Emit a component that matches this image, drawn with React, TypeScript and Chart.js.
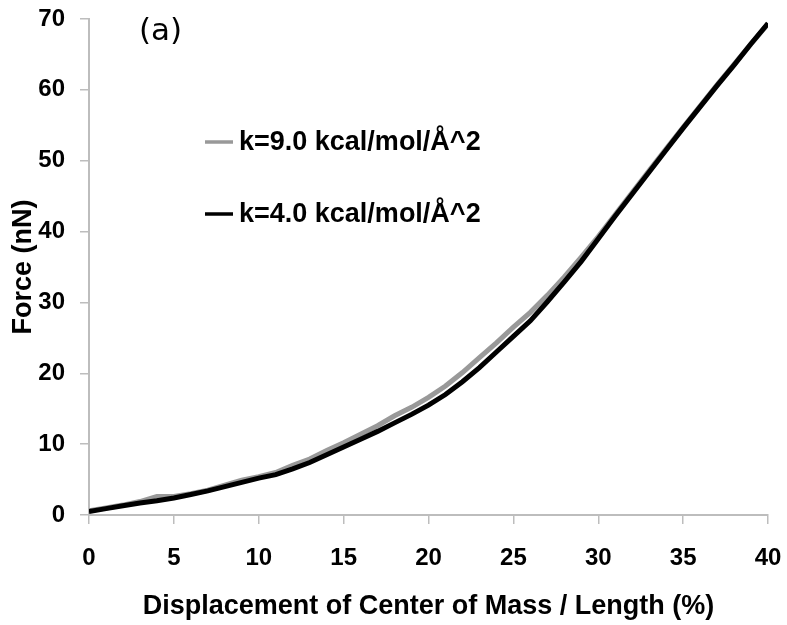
import React, { useEffect, useRef } from "react";
import { Chart, registerables } from "chart.js";

Chart.register(...registerables);

const displacement = [
  0, 1, 2, 3, 4, 5, 6, 7, 8, 9, 10, 11, 12, 13, 14, 15, 16, 17, 18, 19, 20,
  21, 22, 23, 24, 25, 26, 27, 28, 29, 30, 31, 32, 33, 34, 35, 36, 37, 38, 39, 40,
];

const forceK9 = [
  0.6, 1.0, 1.4, 1.9, 2.6, 2.6, 3.0, 3.5, 4.2, 4.9, 5.4, 6.0, 7.0, 7.9, 9.1,
  10.2, 11.4, 12.6, 14.0, 15.2, 16.6, 18.2, 20.1, 22.2, 24.3, 26.5, 28.6, 31.0,
  33.6, 36.4, 39.3, 42.4, 45.5, 48.6, 51.7, 54.7, 57.7, 60.7, 63.6, 66.5, 69.3,
];

const forceK4 = [
  0.5, 0.9, 1.3, 1.7, 2.0, 2.4, 2.9, 3.4, 4.0, 4.6, 5.2, 5.7, 6.5, 7.4, 8.5,
  9.6, 10.7, 11.8, 13.0, 14.2, 15.5, 17.0, 18.8, 20.8, 23.0, 25.2, 27.4, 30.1,
  32.9, 35.8, 39.0, 42.2, 45.3, 48.4, 51.5, 54.6, 57.6, 60.6, 63.5, 66.5, 69.4,
];

const seriesLabels = ["k=9.0 kcal/mol/Å^2", "k=4.0 kcal/mol/Å^2"];
const seriesColors = ["#999999", "#000000"];
const panelLabel = "(a)";
const xTitle = "Displacement of Center of Mass / Length (%)";
const yTitle = "Force (nN)";

const AXIS_COLOR = "#bdbdbd";
const FONT = "'Liberation Sans', Arial, sans-serif";

const overlayPlugin = {
  id: "overlay",
  afterDraw(chart: any) {
    const ctx = chart.ctx;
    ctx.save();
    // panel label
    ctx.fillStyle = "#000";
    ctx.font = "31px 'DejaVu Sans'";
    ctx.textAlign = "left";
    ctx.textBaseline = "alphabetic";
    ctx.fillText(panelLabel, 139, 40);
    // legend
    const rows = [142, 214];
    chart.data.datasets.forEach((ds: any, i: number) => {
      const y = rows[i];
      ctx.strokeStyle = ds.borderColor;
      ctx.lineWidth = 3.5;
      ctx.beginPath();
      ctx.moveTo(205, y);
      ctx.lineTo(233, y);
      ctx.stroke();
      ctx.fillStyle = "#000";
      ctx.font = "bold 27px " + FONT;
      ctx.textBaseline = "middle";
      ctx.fillText(ds.label, 239, y + 1);
    });
    ctx.restore();
  },
};

export default function App() {
  const canvasRef = useRef<HTMLCanvasElement | null>(null);

  useEffect(() => {
    document.body.style.margin = "0";
    const canvas = canvasRef.current;
    if (!canvas) return;
    const toPoints = (vals: number[]) =>
      displacement.map((x, i) => ({ x, y: vals[i] }));

    const chart = new Chart(canvas, {
      type: "line",
      data: {
        datasets: [
          {
            label: seriesLabels[0],
            data: toPoints(forceK9),
            borderColor: seriesColors[0],
            backgroundColor: seriesColors[0],
            borderWidth: 5,
            pointRadius: 0,
            tension: 0,
            order: 1,
          },
          {
            label: seriesLabels[1],
            data: toPoints(forceK4),
            borderColor: seriesColors[1],
            backgroundColor: seriesColors[1],
            borderWidth: 5,
            pointRadius: 0,
            tension: 0,
            order: 0,
          },
        ],
      },
      options: {
        animation: false,
        responsive: false,
        maintainAspectRatio: false,
        devicePixelRatio: 1,
        layout: { padding: { top: 19, right: 19, bottom: 0, left: 0 } },
        plugins: {
          legend: { display: false },
          tooltip: { enabled: false },
        },
        scales: {
          x: {
            type: "linear",
            min: 0,
            max: 40,
            ticks: {
              stepSize: 5,
              color: "#000",
              padding: 20,
              font: { family: FONT, size: 24, weight: "bold" },
            },
            grid: {
              display: true,
              drawOnChartArea: false,
              drawTicks: true,
              tickLength: 9,
              color: AXIS_COLOR,
              lineWidth: 1.5,
            },
            border: { display: true, color: AXIS_COLOR, width: 2 },
            title: {
              display: true,
              text: xTitle,
              color: "#000",
              padding: { top: 0, bottom: 2 },
              font: { family: FONT, size: 27, weight: "bold" },
            },
            afterFit(scale: any) {
              scale.height = 110;
              scale.paddingLeft = 0;
              scale.paddingRight = 0;
            },
          },
          y: {
            type: "linear",
            min: 0,
            max: 70,
            ticks: {
              stepSize: 10,
              color: "#000",
              padding: 15,
              font: { family: FONT, size: 24, weight: "bold" },
            },
            grid: {
              display: true,
              drawOnChartArea: false,
              drawTicks: true,
              tickLength: 9,
              color: AXIS_COLOR,
              lineWidth: 1.5,
            },
            border: { display: true, color: AXIS_COLOR, width: 2 },
            title: {
              display: true,
              text: yTitle,
              color: "#000",
              padding: { top: 7, bottom: 0 },
              font: { family: FONT, size: 27, weight: "bold" },
            },
            afterFit(scale: any) {
              scale.width = 89;
              scale.paddingTop = 0;
              scale.paddingBottom = 0;
            },
          },
        },
      },
      plugins: [overlayPlugin],
    } as any);

    return () => chart.destroy();
  }, []);

  return (
    <canvas
      ref={canvasRef}
      width={787}
      height={625}
      style={{ display: "block", width: "787px", height: "625px" }}
    />
  );
}
